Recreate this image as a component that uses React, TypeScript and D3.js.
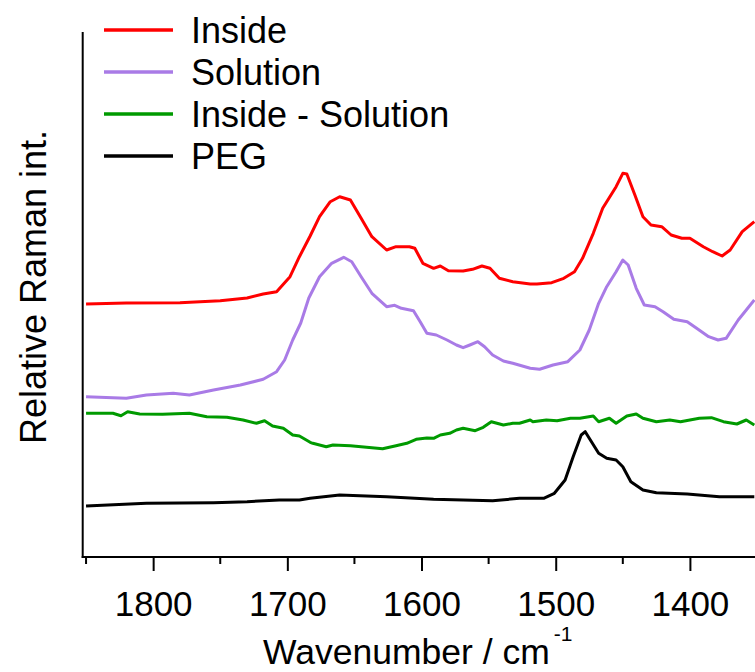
import * as d3 from "d3";
import React, { useEffect, useRef } from "react";

// Raman spectra, [wavenumber (cm-1), relative intensity] with vertical offsets as plotted
const insideSpec: [number, number][] = [
  [1850, 2.53], [1820, 2.54], [1780, 2.543], [1750, 2.563], [1730, 2.59], [1718, 2.63],
  [1708, 2.653], [1698, 2.803], [1691, 3.003], [1683, 3.21], [1676, 3.403], [1668, 3.553],
  [1661, 3.603], [1653, 3.57], [1645, 3.387], [1637, 3.203], [1626, 3.07], [1619, 3.103],
  [1609, 3.103], [1605, 3.087], [1599, 2.937], [1591, 2.887], [1586, 2.91], [1580, 2.863],
  [1569, 2.86], [1562, 2.877], [1555, 2.91], [1549, 2.887], [1542, 2.787], [1532, 2.753],
  [1519, 2.73], [1514, 2.73], [1503, 2.743], [1494, 2.787], [1486, 2.853], [1480, 2.987],
  [1472, 3.237], [1465, 3.487], [1455, 3.703], [1450, 3.837], [1447, 3.83], [1441, 3.62],
  [1435, 3.403], [1429, 3.32], [1421, 3.303], [1414, 3.22], [1406, 3.187], [1400, 3.187],
  [1390, 3.103], [1383, 3.053], [1376, 3.01], [1370, 3.07], [1361, 3.253], [1352, 3.353]
];

const solutionSpec: [number, number][] = [
  [1850, 1.603], [1820, 1.587], [1805, 1.62], [1785, 1.637], [1773, 1.62], [1755, 1.67],
  [1735, 1.72], [1718, 1.777], [1708, 1.853], [1702, 1.97], [1696, 2.17], [1690, 2.34],
  [1684, 2.59], [1676, 2.803], [1667, 2.937], [1658, 2.997], [1652, 2.953], [1645, 2.803],
  [1637, 2.637], [1626, 2.503], [1620, 2.517], [1615, 2.487], [1606, 2.463], [1601, 2.353],
  [1596, 2.237], [1589, 2.22], [1581, 2.17], [1574, 2.12], [1569, 2.093], [1564, 2.12],
  [1558, 2.153], [1553, 2.103], [1547, 2.02], [1539, 1.96], [1532, 1.937], [1519, 1.887],
  [1512, 1.877], [1502, 1.92], [1491, 1.953], [1482, 2.07], [1475, 2.27], [1468, 2.537],
  [1462, 2.703], [1455, 2.853], [1450, 2.97], [1446, 2.92], [1440, 2.687], [1434, 2.52],
  [1426, 2.503], [1420, 2.453], [1412, 2.377], [1402, 2.353], [1395, 2.287], [1386, 2.203],
  [1379, 2.17], [1373, 2.187], [1364, 2.37], [1358, 2.47], [1352, 2.57]
];

const diffSpec: [number, number][] = [
  [1850, 1.437], [1830, 1.437], [1824, 1.413], [1819, 1.453], [1810, 1.43], [1793, 1.427],
  [1773, 1.437], [1760, 1.403], [1745, 1.397], [1733, 1.37], [1723, 1.337], [1717, 1.363],
  [1711, 1.31], [1703, 1.287], [1696, 1.22], [1691, 1.21], [1683, 1.147], [1681, 1.137],
  [1671, 1.103], [1666, 1.12], [1653, 1.113], [1641, 1.097], [1629, 1.083], [1619, 1.113],
  [1611, 1.137], [1604, 1.177], [1596, 1.19], [1591, 1.187], [1586, 1.22], [1579, 1.237],
  [1574, 1.27], [1569, 1.287], [1560, 1.263], [1554, 1.297], [1548, 1.353], [1539, 1.32],
  [1532, 1.337], [1527, 1.337], [1519, 1.37], [1517, 1.353], [1507, 1.37], [1499, 1.363],
  [1489, 1.387], [1482, 1.387], [1472, 1.41], [1468, 1.353], [1460, 1.387], [1455, 1.337],
  [1447, 1.41], [1440, 1.43], [1435, 1.387], [1425, 1.353], [1415, 1.37], [1407, 1.353],
  [1393, 1.387], [1384, 1.393], [1375, 1.353], [1365, 1.33], [1358, 1.37], [1352, 1.32]
];

const pegSpec: [number, number][] = [
  [1850, 0.51], [1805, 0.537], [1755, 0.543], [1730, 0.553], [1706, 0.57], [1691, 0.57],
  [1683, 0.587], [1661, 0.62], [1626, 0.603], [1591, 0.577], [1547, 0.563], [1527, 0.587],
  [1509, 0.587], [1501, 0.637], [1493, 0.77], [1487, 1.003], [1481, 1.22], [1478, 1.253],
  [1475, 1.187], [1468, 1.037], [1462, 0.987], [1455, 0.97], [1450, 0.903], [1444, 0.753],
  [1435, 0.67], [1425, 0.643], [1402, 0.63], [1378, 0.603], [1352, 0.603]
];

const seriesNames = ["Inside", "Solution", "Inside - Solution", "PEG"];
const seriesColors = ["#ff0000", "#a97be6", "#009a00", "#000000"];
const majorTicks = [1800, 1700, 1600, 1500, 1400];
const minorTicks = [1850, 1750, 1650, 1550, 1450];

const FONT = "'Liberation Sans', Arial, sans-serif";

export default function App() {
  const ref = useRef<SVGSVGElement | null>(null);

  useEffect(() => {
    if (!ref.current) return;
    const width = 755;
    const left = 82.7, bottom = 557, top = 32;

    const svg = d3.select(ref.current);
    svg.selectAll("*").remove();

    const x = d3.scaleLinear().domain([1852.5, 1350]).range([left, 757]);
    const y = d3.scaleLinear().domain([0, 5.25]).range([bottom, top]);

    svg.append("clipPath").attr("id", "plot")
      .append("rect").attr("x", left).attr("y", 0).attr("width", width - left).attr("height", bottom);

    const line = d3.line<[number, number]>()
      .x(d => x(d[0]))
      .y(d => y(d[1]));

    const all = [insideSpec, solutionSpec, diffSpec, pegSpec];
    svg.append("g").attr("clip-path", "url(#plot)")
      .selectAll("path")
      .data(all)
      .join("path")
      .attr("d", d => line(d))
      .attr("fill", "none")
      .attr("stroke", (_, i) => seriesColors[i])
      .attr("stroke-width", 3)
      .attr("stroke-linejoin", "round");

    // x axis
    const xAxis = svg.append("g").attr("transform", `translate(0,${bottom})`);
    xAxis.call(
      d3.axisBottom(x).tickValues(majorTicks).tickSize(14).tickSizeOuter(0).tickPadding(20)
        .tickFormat(d3.format("d"))
    );
    xAxis.select(".domain").remove();
    xAxis.selectAll(".tick line").attr("stroke", "#000").attr("stroke-width", 2);
    xAxis.selectAll(".tick text")
      .attr("font-family", FONT).attr("font-size", 35).attr("fill", "#000");
    xAxis.selectAll(".minor")
      .data(minorTicks)
      .join("line")
      .attr("class", "minor")
      .attr("x1", d => x(d)).attr("x2", d => x(d))
      .attr("y1", 0).attr("y2", 7)
      .attr("stroke", "#000").attr("stroke-width", 2);
    xAxis.append("line")
      .attr("x1", left - 1).attr("x2", width)
      .attr("y1", 0).attr("y2", 0)
      .attr("stroke", "#000").attr("stroke-width", 2);

    // y axis line (no ticks)
    svg.append("line")
      .attr("x1", left).attr("x2", left)
      .attr("y1", top).attr("y2", bottom + 1)
      .attr("stroke", "#000").attr("stroke-width", 2);

    // axis titles
    const xt = svg.append("text")
      .attr("x", 263).attr("y", 664)
      .attr("font-family", FONT).attr("font-size", 35.5).attr("fill", "#000");
    xt.append("tspan").text("Wavenumber / cm");
    xt.append("tspan").attr("dx", 4).attr("dy", -23).attr("font-size", 21).text("-1");

    svg.append("text")
      .attr("transform", "translate(46,287) rotate(-90)")
      .attr("text-anchor", "middle")
      .attr("font-family", FONT).attr("font-size", 36).attr("fill", "#000")
      .text("Relative Raman int.");

    // legend
    const legend = svg.append("g");
    const items = legend.selectAll("g")
      .data(seriesNames)
      .join("g")
      .attr("transform", (_, i) => `translate(0,${30 + i * 42})`);
    items.append("line")
      .attr("x1", 104).attr("x2", 173)
      .attr("stroke", (_, i) => seriesColors[i])
      .attr("stroke-width", 3.5);
    items.append("text")
      .attr("x", 191).attr("y", 12.5)
      .attr("font-family", FONT).attr("font-size", 36).attr("fill", "#000")
      .text(d => d);
  }, []);

  return (
    <svg
      ref={ref}
      width={755}
      height={672}
      style={{ position: "absolute", left: 0, top: 0, background: "#fff" }}
    />
  );
}
